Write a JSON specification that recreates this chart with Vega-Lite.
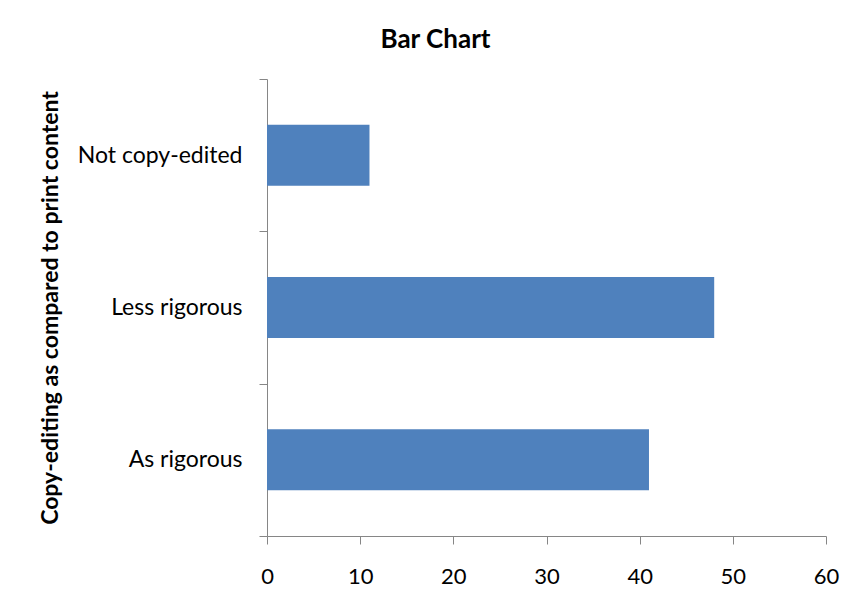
{
  "$schema": "https://vega.github.io/schema/vega-lite/v6.json",
  "autosize": {"type": "none"},
  "width": 559,
  "height": 457,
  "padding": {"left": 267, "top": 79, "right": 21, "bottom": 66},
  "background": "white",
  "title": {
    "text": "Bar Chart",
    "font": "Lato",
    "fontSize": 26,
    "fontWeight": "bold",
    "color": "#000000",
    "anchor": "middle",
    "frame": "group",
    "dx": -111,
    "baseline": "alphabetic",
    "offset": -6
  },
  "data": {
    "values": [
      {"category": "Not copy-edited", "value": 11},
      {"category": "Less rigorous", "value": 48},
      {"category": "As rigorous", "value": 41}
    ]
  },
  "mark": {"type": "bar", "color": "#4F81BD", "height": {"band": 0.4}},
  "encoding": {
    "y": {
      "field": "category",
      "type": "nominal",
      "sort": ["Not copy-edited", "Less rigorous", "As rigorous"],
      "scale": {"paddingInner": 0, "paddingOuter": 0},
      "axis": {
        "title": "Copy-editing as compared to print content",
        "titleFont": "Lato",
        "titleFontSize": 23,
        "titleFontWeight": "bold",
        "titleColor": "#000000",
        "titleX": -210,
        "titleBaseline": "alphabetic",
        "labelFont": "Lato",
        "labelFontSize": 23,
        "labelColor": "#000000",
        "labelPadding": 17,
        "tickSize": 8,
        "tickColor": "#868686",
        "domainColor": "#868686",
        "tickBand": "extent",
        "grid": false
      }
    },
    "x": {
      "field": "value",
      "type": "quantitative",
      "scale": {"domain": [0, 60], "nice": false},
      "axis": {
        "title": null,
        "values": [0, 10, 20, 30, 40, 50, 60],
        "labelFont": "Lato",
        "labelFontSize": 22,
        "labelColor": "#000000",
        "labelPadding": 22,
        "labelBaseline": "top",
        "tickSize": 8,
        "tickColor": "#868686",
        "domainColor": "#868686",
        "grid": false,
        "labelFlush": false
      }
    }
  },
  "config": {"view": {"stroke": null}}
}
